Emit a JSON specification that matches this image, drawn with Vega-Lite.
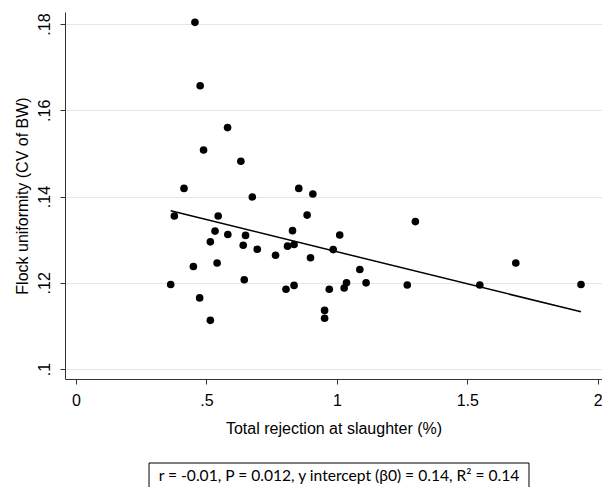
{
  "$schema": "https://vega.github.io/schema/vega-lite/v6.json",
  "width": 537,
  "height": 367,
  "autosize": {"type": "none"},
  "padding": {"left": 65, "top": 12, "right": 0, "bottom": 108},
  "background": "white",
  "config": {
    "view": {"stroke": null},
    "font": "Liberation Sans",
    "axis": {
      "domainColor": "#333333",
      "tickColor": "#333333",
      "tickSize": 5,
      "labelFont": "Liberation Sans",
      "labelFontSize": 16,
      "labelColor": "#000000",
      "titleFont": "Liberation Sans",
      "titleFontSize": 16,
      "titleFontWeight": "normal",
      "titleColor": "#000000"
    }
  },
  "datasets": {
    "points": [
      {"rejection": 0.456, "cv": 0.1804},
      {"rejection": 0.476, "cv": 0.1657},
      {"rejection": 0.581, "cv": 0.1560},
      {"rejection": 0.489, "cv": 0.1508},
      {"rejection": 0.632, "cv": 0.1482},
      {"rejection": 0.414, "cv": 0.1419},
      {"rejection": 0.854, "cv": 0.1419},
      {"rejection": 0.908, "cv": 0.1406},
      {"rejection": 0.676, "cv": 0.1399},
      {"rejection": 0.377, "cv": 0.1355},
      {"rejection": 0.545, "cv": 0.1355},
      {"rejection": 0.886, "cv": 0.1357},
      {"rejection": 0.533, "cv": 0.1320},
      {"rejection": 0.582, "cv": 0.1312},
      {"rejection": 0.650, "cv": 0.1310},
      {"rejection": 0.830, "cv": 0.1321},
      {"rejection": 1.011, "cv": 0.1311},
      {"rejection": 0.515, "cv": 0.1295},
      {"rejection": 0.641, "cv": 0.1287},
      {"rejection": 0.695, "cv": 0.1278},
      {"rejection": 0.811, "cv": 0.1285},
      {"rejection": 0.836, "cv": 0.1289},
      {"rejection": 0.986, "cv": 0.1277},
      {"rejection": 0.765, "cv": 0.1264},
      {"rejection": 0.899, "cv": 0.1258},
      {"rejection": 0.450, "cv": 0.1238},
      {"rejection": 0.541, "cv": 0.1246},
      {"rejection": 1.088, "cv": 0.1231},
      {"rejection": 0.645, "cv": 0.1207},
      {"rejection": 0.363, "cv": 0.1196},
      {"rejection": 0.805, "cv": 0.1185},
      {"rejection": 0.836, "cv": 0.1194},
      {"rejection": 0.971, "cv": 0.1185},
      {"rejection": 1.028, "cv": 0.1188},
      {"rejection": 1.037, "cv": 0.1200},
      {"rejection": 0.474, "cv": 0.1165},
      {"rejection": 0.953, "cv": 0.1136},
      {"rejection": 0.953, "cv": 0.1118},
      {"rejection": 0.515, "cv": 0.1113},
      {"rejection": 1.301, "cv": 0.1342},
      {"rejection": 1.686, "cv": 0.1246},
      {"rejection": 1.112, "cv": 0.1200},
      {"rejection": 1.270, "cv": 0.1195},
      {"rejection": 1.548, "cv": 0.1195},
      {"rejection": 1.936, "cv": 0.1196}
    ],
    "note": [
      {"label": "r = -0.01, P = 0.012, y intercept (β0) = 0.14, R² = 0.14", "x0": 0.2799, "x1": 1.7366, "xm": 1.0083, "y0": 0.07822, "y1": 0.0715, "ym": 0.0752}
    ]
  },
  "layer": [
    {
      "data": {"name": "points"},
      "mark": {"type": "point", "filled": true, "color": "#000000", "size": 58, "opacity": 1},
      "encoding": {
        "x": {
          "field": "rejection", "type": "quantitative",
          "scale": {"domain": [-0.0422, 2.0165], "nice": false, "zero": false},
          "axis": {
            "values": [0, 0.5, 1, 1.5, 2],
            "grid": false,
            "labelExpr": "datum.value > 0 && datum.value < 1 ? substring(format(datum.value, '.2~f'), 1) : format(datum.value, '~g')",
            "labelPadding": 8,
            "labelFlush": false,
            "title": "Total rejection at slaughter (%)",
            "titlePadding": 12
          }
        },
        "y": {
          "field": "cv", "type": "quantitative",
          "scale": {"domain": [0.0977, 0.1828], "nice": false, "zero": false},
          "axis": {
            "values": [0.1, 0.12, 0.14, 0.16, 0.18],
            "grid": true,
            "gridColor": "#e6e6e6",
            "gridWidth": 1,
            "labelAngle": -90,
            "labelAlign": "center",
            "labelBaseline": "bottom",
            "labelPadding": 8,
            "labelFlush": false,
            "labelExpr": "substring(format(datum.value, '.2~f'), 1)",
            "title": "Flock uniformity (CV of BW)",
            "titlePadding": 6
          }
        }
      }
    },
    {
      "data": {"name": "points"},
      "transform": [{"regression": "cv", "on": "rejection", "method": "linear"}],
      "mark": {"type": "line", "color": "#000000", "strokeWidth": 1.5},
      "encoding": {
        "x": {"field": "rejection", "type": "quantitative"},
        "y": {"field": "cv", "type": "quantitative"}
      }
    },
    {
      "data": {"name": "note"},
      "mark": {"type": "rect", "fill": "white", "stroke": "#000000", "strokeWidth": 1, "clip": false},
      "encoding": {
        "x": {"field": "x0", "type": "quantitative"},
        "x2": {"field": "x1"},
        "y": {"field": "y0", "type": "quantitative"},
        "y2": {"field": "y1"}
      }
    },
    {
      "data": {"name": "note"},
      "mark": {"type": "text", "font": "Lato", "fontSize": 15.6, "color": "#000000", "align": "center", "baseline": "middle", "clip": false},
      "encoding": {
        "x": {"field": "xm", "type": "quantitative"},
        "y": {"field": "ym", "type": "quantitative"},
        "text": {"field": "label"}
      }
    }
  ]
}
